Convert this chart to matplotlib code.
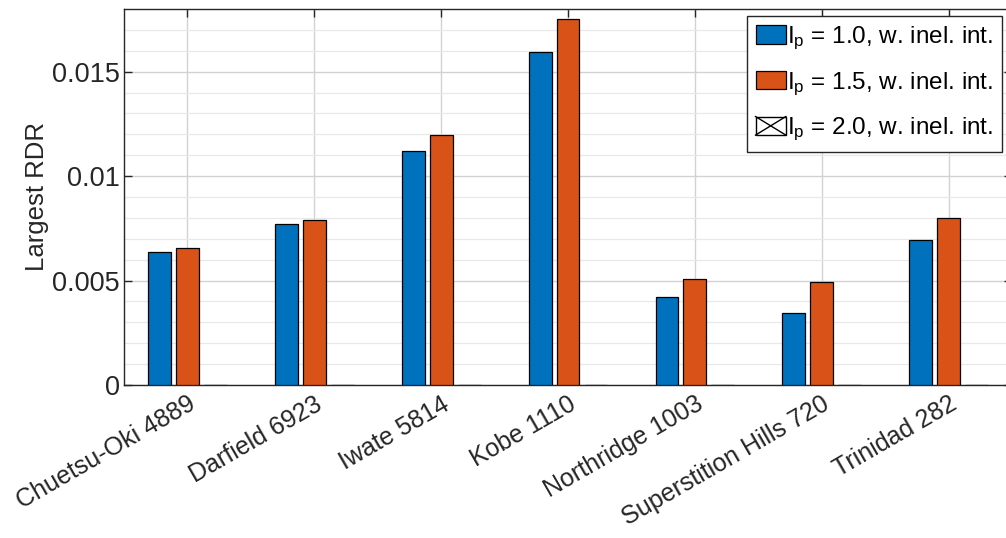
import numpy as np
import matplotlib
matplotlib.use("Agg")
import matplotlib.pyplot as plt
from matplotlib.patches import Rectangle
from matplotlib.lines import Line2D
from matplotlib.legend_handler import HandlerBase

plt.rcParams["font.family"] = ["Liberation Sans", "DejaVu Sans"]
plt.rcParams["mathtext.fontset"] = "custom"
plt.rcParams["mathtext.rm"] = "Liberation Sans"
plt.rcParams["mathtext.it"] = "Liberation Sans"

# Data
EARTHQUAKES = [
    "Chuetsu-Oki 4889",
    "Darfield 6923",
    "Iwate 5814",
    "Kobe 1110",
    "Northridge 1003",
    "Superstition Hills 720",
    "Trinidad 282",
]
RDR_IP10 = [0.00636, 0.00772, 0.01118, 0.01595, 0.00419, 0.00345, 0.00695]
RDR_IP15 = [0.00655, 0.00788, 0.01195, 0.01751, 0.00507, 0.00492, 0.00799]
RDR_IP20 = [0, 0, 0, 0, 0, 0, 0]

LABELS = [
    r"I$_{\mathrm{p}}$ = 1.0, w. inel. int.",
    r"I$_{\mathrm{p}}$ = 1.5, w. inel. int.",
    r"I$_{\mathrm{p}}$ = 2.0, w. inel. int.",
]
COLORS = ["#0072BD", "#D95319", "white"]
AX_COLOR = "#262626"


class CrossBoxHandler(HandlerBase):
    """Legend key drawn as a white box with an X, like MATLAB's empty bar."""

    def create_artists(self, legend, orig_handle, xdescent, ydescent,
                       width, height, fontsize, trans):
        x0, y0 = -xdescent, -ydescent
        box = Rectangle((x0, y0), width, height, facecolor="white",
                        edgecolor="black", linewidth=1.0, transform=trans)
        d1 = Line2D([x0, x0 + width], [y0, y0 + height], color="black",
                    linewidth=1.0, transform=trans)
        d2 = Line2D([x0, x0 + width], [y0 + height, y0], color="black",
                    linewidth=1.0, transform=trans)
        return [box, d1, d2]


fig = plt.figure(figsize=(10.06, 5.38), dpi=100)
ax = fig.add_axes([0.1233, 0.2844, 0.8827, 0.699])

x = np.arange(1, len(EARTHQUAKES) + 1)
offset = 0.22
width = 0.18
series = [RDR_IP10, RDR_IP15, RDR_IP20]
handles = []
for i, (vals, col) in enumerate(zip(series, COLORS)):
    b = ax.bar(x + (i - 1) * offset, vals, width=width, color=col,
               edgecolor="black", linewidth=0.9, zorder=3)
    handles.append(b)

ax.set_xlim(0.5, 7.5)
ax.set_ylim(0, 0.018)
ax.set_yticks([0, 0.005, 0.01, 0.015])
ax.set_yticklabels(["0", "0.005", "0.01", "0.015"])
ax.set_yticks(np.arange(0, 0.0181, 0.001), minor=True)
ax.set_xticks(x)
ax.set_xticklabels(EARTHQUAKES, rotation=30, ha="right", va="top",
                   rotation_mode="anchor")

ax.grid(True, which="major", color="#d2d2d2", linewidth=1.0, zorder=0)
ax.grid(True, which="minor", axis="y", color="#e8e8e8", linewidth=0.9, zorder=0)
ax.set_axisbelow(True)

ax.tick_params(axis="both", which="major", direction="in", length=6,
               width=1.0, color=AX_COLOR, labelcolor=AX_COLOR,
               top=True, right=True, labelsize=19.5, pad=3)
ax.tick_params(axis="y", which="minor", length=0)
ax.tick_params(axis="x", labelsize=18, pad=5)
for sp in ax.spines.values():
    sp.set_color(AX_COLOR)
    sp.set_linewidth(1.0)

ax.set_ylabel("Largest RDR", fontsize=18.5, color=AX_COLOR, labelpad=2)

leg = ax.legend(handles, LABELS, loc="upper left",
                bbox_to_anchor=(747 / 1006, 1 - 16 / 538),
                bbox_transform=fig.transFigure,
                handler_map={handles[2]: CrossBoxHandler()},
                fontsize=17.5, frameon=True, fancybox=False,
                edgecolor=AX_COLOR, framealpha=1.0,
                handlelength=1.25, handleheight=0.8, handletextpad=0.05,
                labelspacing=0.75, borderpad=0.35, borderaxespad=0)
leg.get_frame().set_linewidth(1.0)
leg.set_zorder(5)

fig.savefig("out.png", dpi=100)
